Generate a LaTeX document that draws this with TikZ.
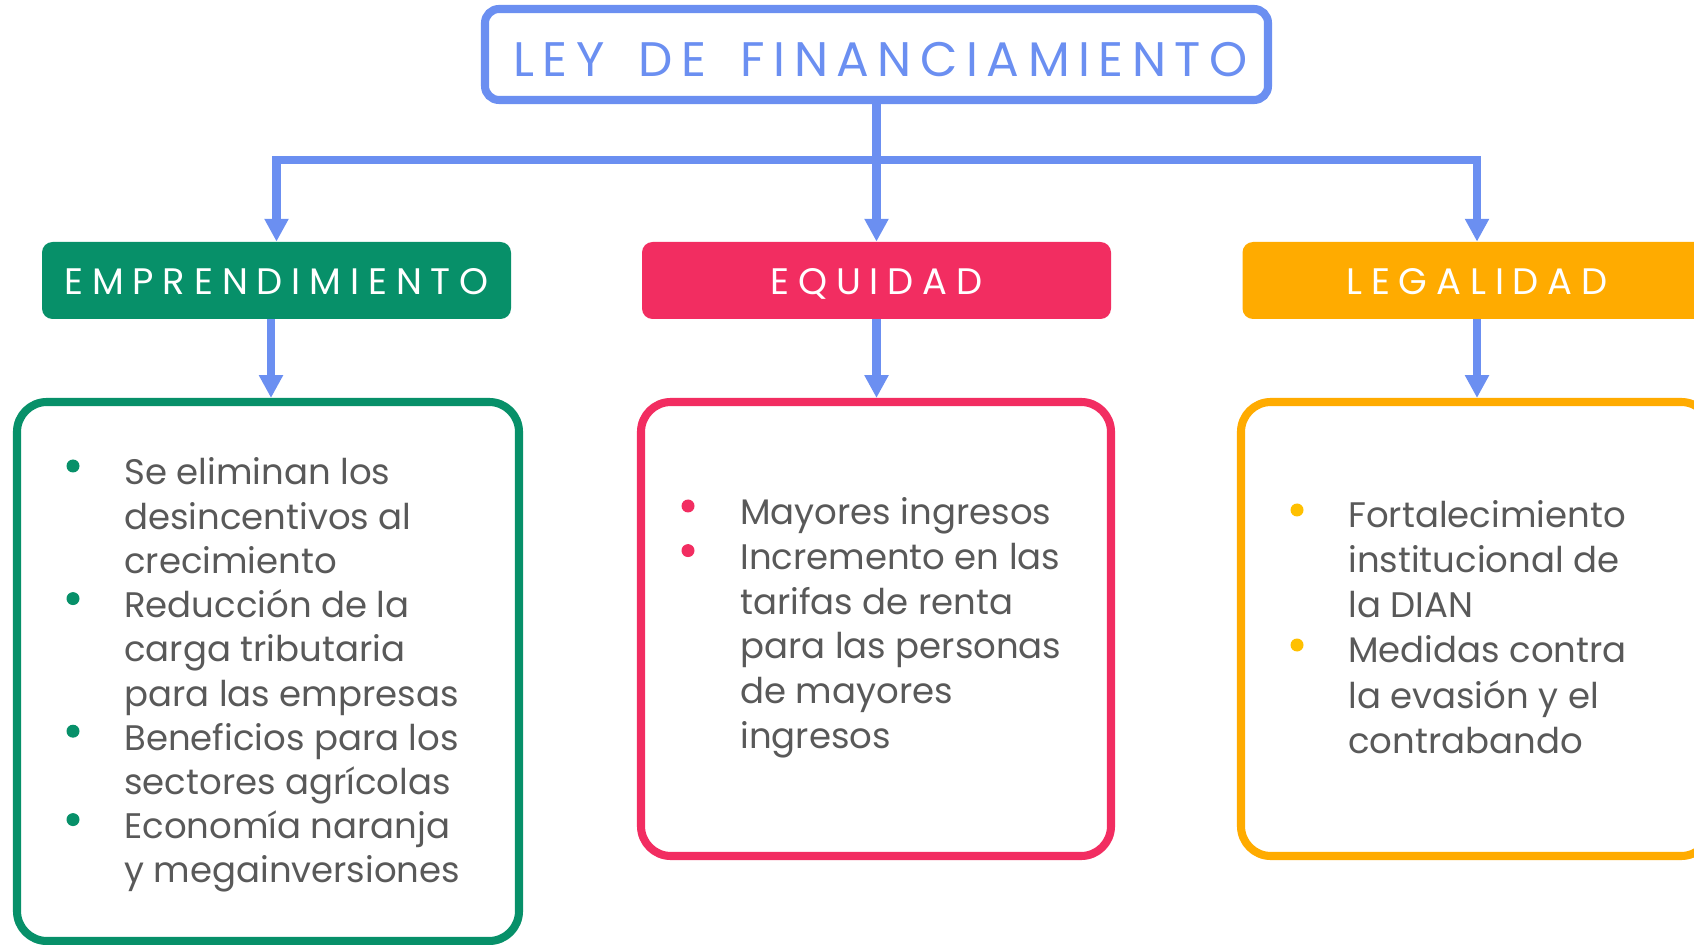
\documentclass[tikz,border=0pt]{standalone}
\usepackage{fontspec}
\setmainfont{Poppins}
\newfontfamily\titulofont[LetterSpace=17.5,WordSpace=1.6]{Poppins}
\newfontfamily\cabezafont[LetterSpace=24]{Poppins}
\usetikzlibrary{arrows.meta}
\definecolor{azul}{HTML}{6B8FF1}
\definecolor{verde}{HTML}{079069}
\definecolor{rosa}{HTML}{F22D61}
\definecolor{naranja}{HTML}{FFAB00}
\definecolor{amarillo}{HTML}{FFC000}
\definecolor{gris}{HTML}{595959}
\newcommand\pxl{0.02cm}
\tikzset{
  flecha/.style={draw=azul, line width=4.6pt, -{Triangle[length=13pt,width=13pt]}},
  cabeza/.style={fill=#1, rounded corners=6pt, minimum width=469*\pxl, minimum height=77*\pxl,
    text=white, text height=29*\pxl, text depth=0pt, font=\cabezafont\fontsize{21}{24}\selectfont},
  caja/.style={draw=#1, line width=4.6pt, rounded corners=17pt, minimum width=470*\pxl, minimum height=454*\pxl},
  texto/.style={anchor=base west, inner sep=0pt, text=gris, font=\fontsize{20.2}{24}\selectfont}
}
\begin{document}
\begin{tikzpicture}[x=0.02cm,y=-0.02cm]
\useasboundingbox (0,0) rectangle (1694,945);
% titulo y ramas
\node[draw=azul, line width=4.6pt, rounded corners=8pt, minimum width=783*\pxl, minimum height=91*\pxl,
  text=azul, text height=45*\pxl, text depth=0pt, font=\titulofont\fontsize{27.6}{30}\selectfont]
  (titulo) at (876.5,54.5) {\hspace{0.16cm}LEY DE FINANCIAMIENTO};
\node[cabeza=verde] (emp) at (276.5,280.5) {EMPRENDIMIENTO};
\node[cabeza=rosa] (equ) at (876.5,280.5) {EQUIDAD};
\node[cabeza=naranja] (leg) at (1477,280.5) {LEGALIDAD};
\coordinate (junta) at (876.5,160);
\draw[flecha] (titulo.south) -- (equ.north);
\draw[flecha] (junta) -| (emp.north);
\draw[flecha] (junta) -| (leg.north);
% cajas
\node[caja=verde, minimum width=502*\pxl, minimum height=539*\pxl] (cemp) at (268,671.5) {};
\node[caja=rosa] (cequ) at (876,629) {};
\node[caja=naranja] (cleg) at (1476,629) {};
\draw[flecha] ([xshift=3*\pxl]emp.south -| cemp.north) -- ([xshift=3*\pxl]cemp.north);
\draw[flecha] (equ.south) -- (equ.south |- cequ.north);
\draw[flecha] (leg.south) -- (leg.south |- cleg.north);
% listas
\foreach \t [count=\i from 0] in {Se eliminan los, desincentivos al, crecimiento, Reducción de la,
  carga tributaria, para las empresas, Beneficios para los, sectores agrícolas, Economía naranja, y megainversiones}
  \node[texto] (lemp\i) at (124,485+44.2*\i) {\t};
\foreach \k in {0,3,6,8} \fill[verde] (73,466+44.2*\k) circle (6.5);
\foreach \t [count=\i from 0] in {Mayores ingresos, Incremento en las, tarifas de renta, para las personas,
  de mayores, ingresos}
  \node[texto] (lequ\i) at (740,525+44.6*\i) {\t};
\foreach \k in {0,1} \fill[rosa] (688,506+44.6*\k) circle (6.5);
\foreach \t [count=\i from 0] in {Fortalecimiento, institucional de, la DIAN, Medidas contra,
  la evasión y el, contrabando}
  \node[texto] (lleg\i) at (1348,528+45*\i) {\t};
\foreach \k in {0,3} \fill[amarillo] (1297,510+45*\k) circle (6.5);
\end{tikzpicture}
\end{document}
